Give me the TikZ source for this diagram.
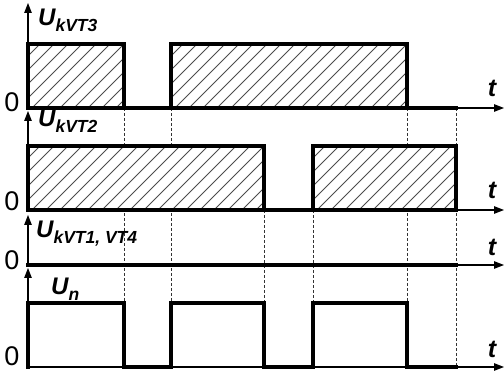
\documentclass[tikz,border=0pt]{standalone}
\usepackage{fontspec}
\setmainfont{Liberation Sans}
\usetikzlibrary{arrows.meta}
\newcommand\labU[1]{\fontsize{24}{24}\selectfont\bfseries\itshape U\raisebox{-5.5pt}{\fontsize{17.5}{17.5}\selectfont #1}}
\newcommand\hatchbox[4]{%
  \begin{scope}
    \clip (#1,#2) rectangle (#3,#4);
    \fill[white] (#1,#2) rectangle (#3,#4);
    \foreach \s in {-80,-66,...,460}{\draw[hatch] (#1+\s,#4) -- ++(80,-80);}
  \end{scope}}
\begin{document}
\begin{tikzpicture}[x=1pt,y=-1pt,
  thickw/.style={line width=3.6pt,line join=miter,line cap=rect},
  axisw/.style={line width=1.1pt,-{Triangle[length=10pt,width=7.5pt]}},
  hatch/.style={line width=0.8pt,black!70},
  guide/.style={line width=0.7pt,dash pattern=on 3pt off 2pt,black!80},
  zero/.style={font=\fontsize{27}{27}\selectfont,anchor=base,inner sep=0pt},
  tlab/.style={font=\fontsize{25}{25}\selectfont\bfseries\itshape,anchor=base,inner sep=0pt},
  ulab/.style={anchor=base west,inner sep=0pt}]
\useasboundingbox (0,0) rectangle (504,374);
% guide lines
\draw[guide] (124,108) -- (124,367);
\draw[guide] (171,108) -- (171,367);
\draw[guide] (264,210) -- (264,367);
\draw[guide] (313,210) -- (313,367);
\draw[guide] (407,108) -- (407,367);
\draw[guide] (456,108) -- (456,367);
% coordinates
\coordinate (o1) at (28,108); \coordinate (y1) at (28,3);   \coordinate (x1) at (504,108);
\coordinate (o2) at (28,210); \coordinate (y2) at (28,111); \coordinate (x2) at (504,210);
\coordinate (o3) at (28,265); \coordinate (y3) at (28,215); \coordinate (x3) at (504,265);
\coordinate (o4) at (28,367); \coordinate (y4) at (28,268); \coordinate (x4) at (504,367);
% axes
\foreach \i in {1,2,3,4}{\draw[axisw] (o\i) -- (y\i); \draw[axisw] (o\i) -- (x\i);}
% panel 1
\hatchbox{28}{44}{124}{108}
\hatchbox{171}{44}{407}{108}
\draw[thickw] (28,108) -- (28,44) -- (124,44) -- (124,108);
\draw[thickw] (171,108) -- (171,44) -- (407,44) -- (407,108);
\draw[thickw] (28,108) -- (456,108);
% panel 2
\hatchbox{28}{146}{264}{210}
\hatchbox{313}{146}{456}{210}
\draw[thickw] (28,210) -- (28,146) -- (264,146) -- (264,210);
\draw[thickw] (313,210) -- (313,146) -- (456,146) -- (456,210);
\draw[thickw] (28,210) -- (456,210);
% panel 3
\draw[thickw] (28,265) -- (456,265);
% panel 4
\draw[thickw] (28,367) -- (28,303) -- (124,303) -- (124,367) -- (171,367) -- (171,303)
  -- (264,303) -- (264,367) -- (313,367) -- (313,303) -- (407,303) -- (407,367) -- (456,367);
% labels
\node[ulab] (l1) at (38,26) {\labU{kVT3}};
\node[ulab] (l2) at (38,127) {\labU{kVT2}};
\node[ulab] (l3) at (36,238) {\labU{kVT1, VT4}};
\node[ulab] (l4) at (51,295) {\labU{n}};
\node[zero] (z1) at (12,112) {0};
\node[zero] (z2) at (12,211) {0};
\node[zero] (z3) at (12,270) {0};
\node[zero] (z4) at (12,366) {0};
\node[tlab] (t1) at (492,97) {t};
\node[tlab] (t2) at (492,199) {t};
\node[tlab] (t3) at (492,256) {t};
\node[tlab] (t4) at (492,358) {t};
\end{tikzpicture}
\end{document}
